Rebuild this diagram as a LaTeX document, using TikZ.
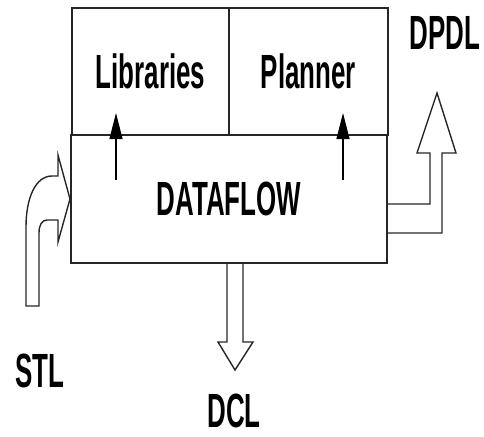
\documentclass[tikz,border=0pt]{standalone}
\usepackage{fontspec}
\newfontfamily\lblfont{Liberation Sans}[FakeStretch=0.54]
\usetikzlibrary{arrows.meta,positioning}
\begin{document}
\begin{tikzpicture}[x=1pt,y=-1pt,
  lbl/.style={font=\lblfont\bfseries\fontsize{48}{52}\selectfont},
  cell/.style={draw=black!85,line width=1.6pt,outer sep=0pt,inner sep=0pt,lbl},
  fat/.style={draw=black!85,line width=1.4pt,line join=miter},
  thin/.style={line width=1.1pt,-{Triangle[length=26pt,width=13pt]}}]
\useasboundingbox (0,0) rectangle (484,436);
\node[cell,minimum width=157pt,minimum height=127pt] (libraries) at (150.5,71.5) {Libraries};
\node[cell,minimum width=159pt,minimum height=127pt,right=0pt of libraries] (planner) {Planner};
\node[cell,minimum width=316pt,minimum height=128pt,below=0pt of libraries.south east] (dataflow) {DATAFLOW};
\coordinate (libsrc) at (116,180);
\coordinate (libtip) at (116,113);
\coordinate (plnsrc) at (343,180);
\coordinate (plntip) at (343,113);
\draw[thin] (libsrc) -- (libtip);
\draw[thin] (plnsrc) -- (plntip);
\draw[fat] (26,306) -- (26,227) .. controls (26,197) and (36,176) .. (52,176) -- (58,176) -- (58,155) -- (70,199) -- (58,242) -- (58,220) -- (47,220) .. controls (42,220) and (39,225) .. (39,233) -- (39,306) -- cycle;
\draw[fat] (227,263) -- (227,342) -- (218,342) -- (235,370) -- (253,342) -- (243,342) -- (243,263);
\draw[fat] (388,204) -- (430,204) -- (430,153) -- (417,153) -- (437,93) -- (456,153) -- (442,153) -- (442,233) -- (388,233);
\node[lbl,anchor=base] (stl) at (40,387) {STL};
\node[lbl,anchor=base] (dcl) at (234,427) {DCL};
\node[lbl,anchor=base] (dpdl) at (445,50) {DPDL};
\end{tikzpicture}
\end{document}
